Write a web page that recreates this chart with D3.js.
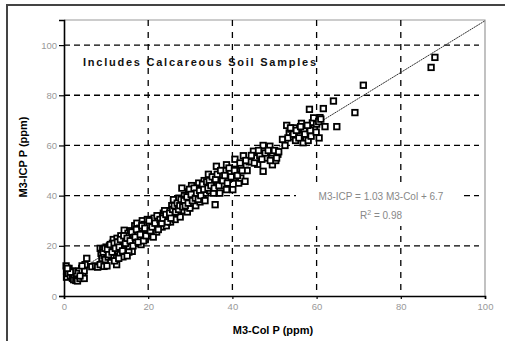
<!DOCTYPE html>
<html><head><meta charset="utf-8">
<script src="https://cdn.jsdelivr.net/npm/d3@7/dist/d3.min.js"></script>
<style>body{margin:0;background:#fff}svg{display:block}</style>
</head><body>
<script>
const xTicks = [0,20,40,60,80,100];
const yTicks = [0,20,40,60,80,100];
const colP = [0.5,0.6,0.6,1,1.2,1.5,2,2.3,2.8,3,3.2,3.5,3.8,4,4.2,4.5,4.8,5,5.4,4.8,3.6,2.5,
6.6,7.5,8,8.6,9.5,10.2,12.5,
8.6,8.8,9,9.2,9.5,9.8,10,10.2,10.5,10.8,11,11.2,11.5,11.7,11.8,12,12.3,12.6,12.8,13,13.3,13.5,13.7,14,14,14.3,14.5,14.8,15,15.2,15.5,15.8,16,16.2,16.5,16.8,17,17.3,17.5,17.8,18,18.3,18.6,18.8,19,19.3,19.6,19.8,20,20.3,20.6,21,21.4,21.8,22,22.3,22.6,23,23.3,23.6,24,24.3,24.8,25,25.3,25.6,26,26,26.4,26.7,27,27.3,27.6,28,28,28.3,28.6,29,29.3,29.6,29.9,30,30.3,30.7,31,31.3,31.6,32,32.3,32.6,33,33.3,33.6,34,34.3,34.6,35,35.5,35.9,36.2,36.5,37,37,37.5,38,38.6,38.6,39,39.5,40.1,40.3,40.6,41,41.5,42,42,42.6,43,43.5,44,45,45.5,46,46.5,47.3,47.3,48,48.9,49.5,49.5,50.3,50.8,51.9,52.5,
52.9,53.5,53.9,54.3,54.7,55,55.5,56,56.4,56.8,57,57.5,58,58.3,58.7,59,59.5,59.9,60.2,60.6,60.8,61.6,62,64,64.8,69.1,71.1,87.2,88.1,
9.3,9.7,10.3,10.6,11,11.4,11.9,12.2,12.7,13.1,13.4,13.9,14.2,14.6,15,15.4,15.7,16.1,16.4,16.9,17.2,17.6,18.1,18.5,18.9,19.2,19.5,20.2,20.5,20.9,21.2,21.6,22.1,22.4,22.8,23.2,23.5,23.9,24.2,24.6,25.1,25.4,25.8,26.2,26.5,26.9,27.2,27.5,27.8,28.2,28.5,28.8,29.2,29.5,29.8,30.2,30.5,30.9,31.2,31.5,31.9,32.2,32.5,32.9,33.2,33.5,33.9,34.2,34.5,34.9,35.2,35.7,36,36.4,36.8,37.2,37.7,38.2,38.8,39.2,39.7,40.5,41.2,41.8,42.3,43.2,44.5,45.2,46.2,47,47.8,48.5,49,50,50.5,51,53.2,53.8,54.5,55.2,55.8,56.2,57.2,58.5,59.3,60,57.8,60.5,61,3,2,1.5,3.8,4.3,0.8,12,13,15];
const icpP = [12,10,7.5,9,11,8,7,6.5,6.2,7.5,6,8.5,7,9.5,11,8,10,12.5,15,7,10,8.5,
11.7,12,11.5,12.5,11.8,12,12.5,
19,17,15,18.5,16,14.5,19.5,17,15.5,20,18,16,21,22.5,19,17.5,20.5,23,18,21.5,16.5,24,20,22,15.6,26.2,18.5,23.5,21,25,19.5,26,22.5,17.8,24.5,28,21,29,25.5,23,27,20.5,30,25,28.5,22.5,26.5,30.5,24,28,25,29.5,31,27,25.5,30,28.5,32,27.5,33,30,28,31.5,34,29.5,36,32,38.4,30.5,35,33,39,31.5,36.5,43,34,40,37.5,33.5,41.5,35,39,44,37,42,36,40.5,45,37.5,43,39.5,46,41,44,48.5,42,46,41,36.4,51.7,45,41,48,44,50,52.3,42.4,46.5,49,42.4,47,54.5,50.5,45,47,52,55.9,45.7,50,53.5,57.7,55,52.5,56,60,49.7,55,59.7,52.3,57,54,56.5,62.4,60,
68,65,66.5,63.5,67,62,65.5,64,68.8,61.1,66,63,62,74.4,63.7,69,67,65.3,70,63,71.1,74.7,67.5,77.7,67.5,73.1,84,91.1,95.1,
17.5,19,18.5,16.5,20.5,17.5,21,19,21.5,19.5,22.5,18,24,21,23,17.5,22,25.5,20,23.5,26.5,21.5,24.5,28,22,27,24,30,26,27.5,23.5,29,32,26.5,30.5,29,31,34,32.5,29.5,33,31,34.5,36,33.5,37,34.5,36,38.5,35.5,38,36,39.5,37,42.5,40.5,38,43,39,41,38.5,42,40,44.5,42.5,38,45.5,43,46,44,47.5,43,46.5,48.5,44,50,46,48,45,51,47.5,50,48,53,50,54,56,53,58,54.5,57,58,54,58,55,57.5,63,67,64.5,66,63,67.5,64.5,66,71,68.5,68,69.5,70.5,9,10,9.5,8,12,11,14,15,16];
const slope = 1.03, intercept = 6.7;

const W = 505, H = 341;
const svg = d3.select("body").append("svg").attr("width", W).attr("height", H);
const m = {l:64, r:485, t:20, b:296};
const x = d3.scaleLinear().domain([0,100]).range([m.l, m.r]);
const y = d3.scaleLinear().domain([0,110]).range([m.b, m.t]);

// outer frame
svg.append("path").attr("d", `M7,${H} L7,5 L${W},5`).attr("fill","none").attr("stroke","#444").attr("stroke-width",2);

// plot frame top/right
svg.append("path").attr("d", `M${m.l},${m.t} L${m.r},${m.t} L${m.r},${m.b}`).attr("fill","none").attr("stroke","#999").attr("stroke-width",1.2);

// grid
const g = svg.append("g");
g.selectAll(".hg").data(yTicks.filter(d=>d>0)).join("line")
  .attr("x1", m.l).attr("x2", m.r-6).attr("y1", d=>y(d)).attr("y2", d=>y(d))
  .attr("stroke","#000").attr("stroke-width",1.3).attr("stroke-dasharray","6,4");
g.selectAll(".vg").data(xTicks.filter(d=>d>0 && d<100)).join("line")
  .attr("x1", d=>x(d)).attr("x2", d=>x(d)).attr("y1", m.t).attr("y2", m.b)
  .attr("stroke","#000").attr("stroke-width",1.3).attr("stroke-dasharray","6,6");

// equation label background
svg.append("rect").attr("x",296).attr("y",186).attr("width",166).attr("height",40).attr("fill","#fff");

// trend line
svg.append("line").attr("x1", x(0)).attr("y1", y(intercept)).attr("x2", x(100)).attr("y2", y(slope*100+intercept))
  .attr("stroke","#333").attr("stroke-width",1).attr("stroke-dasharray","2,0.6");

// points
const pts = colP.map((v,i)=>[v, icpP[i]]);
svg.append("g").selectAll("rect").data(pts).join("rect")
  .attr("x", d=>x(d[0])-2.75).attr("y", d=>y(d[1])-2.75).attr("width",5.5).attr("height",5.5)
  .attr("fill","#fff").attr("stroke","#000").attr("stroke-width",1.8);

// axes
const xa = svg.append("g").attr("transform",`translate(0,${m.b})`)
  .call(d3.axisBottom(x).tickValues(xTicks).tickSize(3).tickPadding(4));
const ya = svg.append("g").attr("transform",`translate(${m.l},0)`)
  .call(d3.axisLeft(y).tickValues(yTicks).tickSize(5).tickPadding(2));
[xa, ya].forEach(a=>{
  a.select(".domain").attr("stroke","#000").attr("stroke-width",1.6);
  a.selectAll(".tick line").attr("stroke","#000").attr("stroke-width",1.2);
  a.selectAll(".tick text").attr("fill","#999").attr("font-family","Liberation Sans, Arial, sans-serif").attr("font-size",9.5);
});

const F = "Liberation Sans, Arial, sans-serif";
svg.append("text").attr("x",273).attr("y",334).attr("text-anchor","middle")
  .attr("font-family",F).attr("font-weight","bold").attr("font-size",11).text("M3-Col P (ppm)");
svg.append("text").attr("transform","translate(27,157) rotate(-90)").attr("text-anchor","middle")
  .attr("font-family",F).attr("font-weight","bold").attr("font-size",11).text("M3-ICP P (ppm)");
svg.append("text").attr("x",83).attr("y",66).attr("textLength",233).attr("lengthAdjust","spacing")
  .attr("font-family",F).attr("font-weight","bold").attr("font-size",11).attr("fill","#111").text("Includes Calcareous Soil Samples");
svg.append("text").attr("x",381).attr("y",200).attr("text-anchor","middle")
  .attr("font-family",F).attr("font-size",10).attr("fill","#888").text("M3-ICP = 1.03 M3-Col + 6.7");
const r2 = svg.append("text").attr("x",381).attr("y",219).attr("text-anchor","middle")
  .attr("font-family",F).attr("font-size",10).attr("fill","#888");
r2.append("tspan").text("R");
r2.append("tspan").attr("dy",-4).attr("font-size",7).text("2");
r2.append("tspan").attr("dy",4).text(" = 0.98");
</script>
</body></html>
